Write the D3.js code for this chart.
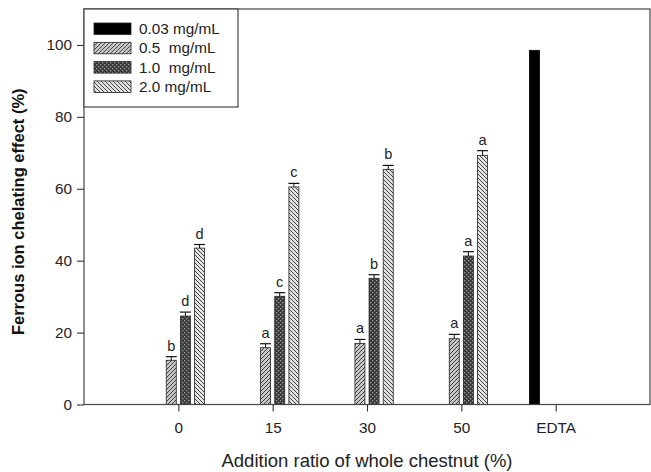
<!DOCTYPE html>
<html><head><meta charset="utf-8">
<script src="https://cdn.jsdelivr.net/npm/d3@7"></script>
<style>
html,body{margin:0;padding:0;background:#fff;}
svg{display:block;font-family:"Liberation Sans",Arial,sans-serif;}
</style></head>
<body>
<svg id="chart" width="651" height="472"></svg>
<script>
const categories = ["0", "15", "30", "50", "EDTA"];
const seriesNames = ["0.03 mg/mL", "0.5  mg/mL", "1.0  mg/mL", "2.0 mg/mL"];
const v003 = [null, null, null, null, 98.5];
const v05 = [12.3, 15.8, 17.0, 18.3, null];
const v10 = [24.6, 30.1, 35.1, 41.3, null];
const v20 = [43.5, 60.5, 65.4, 69.3, null];
const e003 = [null, null, null, null, null];
const e05 = [1.0, 1.1, 1.1, 1.2, null];
const e10 = [1.1, 1.0, 1.0, 1.2, null];
const e20 = [1.0, 1.0, 1.1, 1.3, null];
const l003 = [null, null, null, null, null];
const l05 = ["b", "a", "a", "a", null];
const l10 = ["d", "c", "b", "a", null];
const l20 = ["d", "c", "b", "a", null];
const yTicks = [0, 20, 40, 60, 80, 100];
const yTitle = "Ferrous ion chelating effect (%)";
const xTitle = "Addition ratio of whole chestnut (%)";

const seriesVals = [v003, v05, v10, v20];
const seriesErr = [e003, e05, e10, e20];
const seriesLab = [l003, l05, l10, l20];
const fills = ["#000", "url(#p05)", "url(#p10)", "url(#p20)"];

const svg = d3.select("#chart");
const L = 84, R = 650, T = 9, B = 404.5;

// patterns
const defs = svg.append("defs");
const p05 = defs.append("pattern").attr("id", "p05").attr("patternUnits", "userSpaceOnUse")
  .attr("width", 4).attr("height", 4);
p05.append("rect").attr("width", 4).attr("height", 4).attr("fill", "#c6c6c6");
p05.append("path").attr("d", "M-1,5 L5,-1 M-1,1 L1,-1 M3,5 L5,3").attr("stroke", "#333").attr("stroke-width", 0.9);
const p20 = defs.append("pattern").attr("id", "p20").attr("patternUnits", "userSpaceOnUse")
  .attr("width", 4).attr("height", 4);
p20.append("rect").attr("width", 4).attr("height", 4).attr("fill", "#e2e2e2");
p20.append("path").attr("d", "M-1,-1 L5,5 M3,-1 L5,1 M-1,3 L1,5").attr("stroke", "#333").attr("stroke-width", 0.9);
const p10 = defs.append("pattern").attr("id", "p10").attr("patternUnits", "userSpaceOnUse")
  .attr("width", 4).attr("height", 4);
p10.append("rect").attr("width", 4).attr("height", 4).attr("fill", "#3a3a3a");
p10.append("rect").attr("x", 0).attr("y", 0).attr("width", 1.3).attr("height", 1.3).attr("fill", "#9a9a9a");
p10.append("rect").attr("x", 2).attr("y", 2).attr("width", 1.3).attr("height", 1.3).attr("fill", "#9a9a9a");

const x = d3.scalePoint().domain(categories).range([L, R]).padding(1);
const y = d3.scaleLinear().domain([0, 110]).range([B, T]);
const groupW = x.step() * 0.6;
const xs = d3.scaleBand().domain(d3.range(4)).range([-groupW / 2, groupW / 2]);
const barW = 10;

// bars
seriesVals.forEach((vals, si) => {
  const data = categories.map((c, i) => ({c, v: vals[i], e: seriesErr[si][i], l: seriesLab[si][i]})).filter(d => d.v != null);
  const g = svg.append("g");
  const cx = d => x(d.c) + xs(si) + xs.bandwidth() / 2;
  g.selectAll("rect").data(data).join("rect")
    .attr("x", d => cx(d) - barW / 2).attr("y", d => y(d.v))
    .attr("width", barW).attr("height", d => B - y(d.v))
    .attr("fill", fills[si]).attr("stroke", si === 0 ? "#000" : "#222").attr("stroke-width", 0.8);
  const eb = data.filter(d => d.e != null);
  g.selectAll("line.ev").data(eb).join("line").attr("class", "ev")
    .attr("x1", cx).attr("x2", cx).attr("y1", d => y(d.v)).attr("y2", d => y(d.v + d.e))
    .attr("stroke", "#111").attr("stroke-width", 1);
  g.selectAll("line.ec").data(eb).join("line").attr("class", "ec")
    .attr("x1", d => cx(d) - 5.5).attr("x2", d => cx(d) + 5.5)
    .attr("y1", d => y(d.v + d.e)).attr("y2", d => y(d.v + d.e))
    .attr("stroke", "#111").attr("stroke-width", 1.2);
  g.selectAll("text").data(data.filter(d => d.l)).join("text")
    .attr("x", cx).attr("y", d => y(d.v + (d.e || 0)) - 6)
    .attr("text-anchor", "middle").attr("font-size", 14.5).attr("fill", "#222")
    .text(d => d.l);
});

// frame
svg.append("rect").attr("x", L).attr("y", T).attr("width", R - L).attr("height", B - T)
  .attr("fill", "none").attr("stroke", "#444").attr("stroke-width", 1.2);

// axes
const yAxis = svg.append("g").attr("transform", `translate(${L},0)`)
  .call(d3.axisLeft(y).tickValues(yTicks).tickSize(7).tickPadding(5));
const xAxis = svg.append("g").attr("transform", `translate(0,${B})`)
  .call(d3.axisBottom(x).tickSize(7).tickPadding(10.5));
[yAxis, xAxis].forEach(a => {
  a.select(".domain").remove();
  a.selectAll("line").attr("stroke", "#333").attr("stroke-width", 1.1);
  a.selectAll("text").attr("font-size", 15.3).attr("fill", "#222")
    .attr("font-family", "'Liberation Sans',Arial,sans-serif");
});

// titles
svg.append("text").attr("transform", `translate(24,${(T + B) / 2 + 5}) rotate(-90)`)
  .attr("text-anchor", "middle").attr("font-size", 16.5).attr("font-weight", "bold").attr("fill", "#111")
  .text(yTitle);
svg.append("text").attr("x", (L + R) / 2).attr("y", 467)
  .attr("text-anchor", "middle").attr("font-size", 18.5).attr("fill", "#222")
  .text(xTitle);

// legend
const lg = svg.append("g");
lg.append("rect").attr("x", L).attr("y", T).attr("width", 154).attr("height", 98)
  .attr("fill", "#fff").attr("stroke", "#444").attr("stroke-width", 1.2);
seriesNames.forEach((n, i) => {
  const yy = 23 + i * 19.3;
  lg.append("rect").attr("x", 94).attr("y", yy).attr("width", 37).attr("height", 11.5)
    .attr("fill", fills[i]).attr("stroke", "#222").attr("stroke-width", 0.8);
  lg.append("text").attr("x", 139).attr("y", yy + 11).attr("font-size", 15.3).attr("fill", "#222")
    .style("white-space", "pre").text(n);
});
</script>
</body></html>
